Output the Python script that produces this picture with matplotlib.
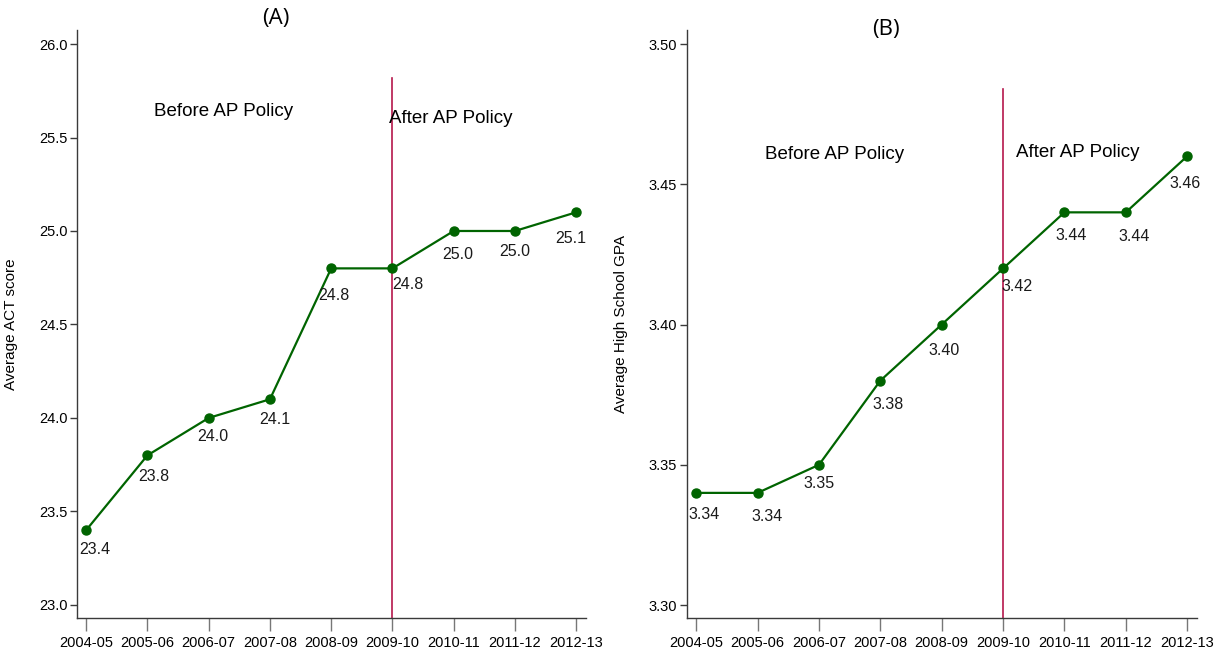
import matplotlib
matplotlib.use('Agg')
import matplotlib.pyplot as plt
from matplotlib import font_manager
import numpy as np

years = ['2004-05', '2005-06', '2006-07', '2007-08', '2008-09',
         '2009-10', '2010-11', '2011-12', '2012-13']
act_scores = [23.4, 23.8, 24.0, 24.1, 24.8, 24.8, 25.0, 25.0, 25.1]
gpa_scores = [3.34, 3.34, 3.35, 3.38, 3.40, 3.42, 3.44, 3.44, 3.46]
act_ticks = [23.0, 23.5, 24.0, 24.5, 25.0, 25.5, 26.0]
gpa_ticks = [3.30, 3.35, 3.40, 3.45, 3.50]
policy_year = '2009-10'

# marker label offsets in pixels (right, down)
act_offsets = [(9, 19), (6, 21), (4, 19), (5, 20), (3, 27), (15, 16), (4, 24), (0, 21), (-5, 26)]
gpa_offsets = [(8, 22), (10, 24), (0, 19), (8, 24), (2, 26), (14, 18), (7, 23), (8, 24), (-2, 27)]

fams = sorted({(f.name, f.stretch) for f in font_manager.fontManager.ttflist
               if 'DejaVu' in f.name or 'Narrow' in f.name or 'Condensed' in f.name})
print(fams)

plt.rcParams['font.family'] = ['Liberation Sans', 'DejaVu Sans']

line_color = '#006400'
policy_color = '#b5174b'
spine_color = '#3a3a3a'


def draw_panel(ax, values, ticks, fmt, ylim, policy_top, ylabel, title, title_y,
               before_xy, after_xy, offsets):
    x = np.arange(len(years))
    ax.plot(x, values, color=line_color, lw=1.6, marker='o', ms=6.5, zorder=3)
    for xi, v, (dx, dy) in zip(x, values, offsets):
        ax.annotate(fmt.format(v), (xi, v), xytext=(dx, -dy), textcoords='offset pixels',
                    ha='center', va='center', fontsize=11.5, color='#1a1a1a')
    px = years.index(policy_year)
    ax.plot([px, px], [ylim[0], policy_top], color=policy_color, lw=1.2, zorder=2)

    ax.set_xlim(-0.15, len(years) - 1 + 0.16)
    ax.set_ylim(*ylim)
    ax.set_xticks(x)
    ax.set_xticklabels(years)
    ax.set_yticks(ticks)
    ax.set_yticklabels([fmt.format(t) for t in ticks])
    ax.tick_params(axis='x', length=9, width=1, color='#777777', labelsize=10.5, pad=4)
    ax.tick_params(axis='y', length=5, width=1, color=spine_color, labelsize=10.5, pad=2)
    for s in ['top', 'right']:
        ax.spines[s].set_visible(False)
    for s in ['left', 'bottom']:
        ax.spines[s].set_color(spine_color)
        ax.spines[s].set_linewidth(1)

    ax.set_ylabel(ylabel, fontsize=11)
    ax.yaxis.set_label_coords(-0.116, 0.5)
    ax.text(before_xy[0], before_xy[1], 'Before AP Policy', ha='center', va='center', fontsize=13.5)
    ax.text(after_xy[0], after_xy[1], 'After AP Policy', ha='center', va='center', fontsize=13.5)
    ax.text(0.39, title_y, title, transform=ax.transAxes, ha='center', va='center',
            fontsize=16, family='Open Sans')


fig = plt.figure(figsize=(12.16, 6.57), dpi=100)
ax1 = fig.add_axes([77 / 1216, 1 - 618 / 657, 509 / 1216, 588 / 657])
ax2 = fig.add_axes([687 / 1216, 1 - 618 / 657, 510 / 1216, 588 / 657])

draw_panel(ax1, act_scores, act_ticks, '{:.1f}', (22.93, 26.075), 25.82,
           'Average ACT score', '(A)', 1.02, (2.24, 25.64), (5.96, 25.60), act_offsets)
draw_panel(ax2, gpa_scores, gpa_ticks, '{:.2f}', (3.2954, 3.505), 3.484,
           'Average High School GPA', '(B)', 1.0, (2.26, 3.4605), (6.21, 3.4612), gpa_offsets)

fig.savefig('out.png', dpi=100)
